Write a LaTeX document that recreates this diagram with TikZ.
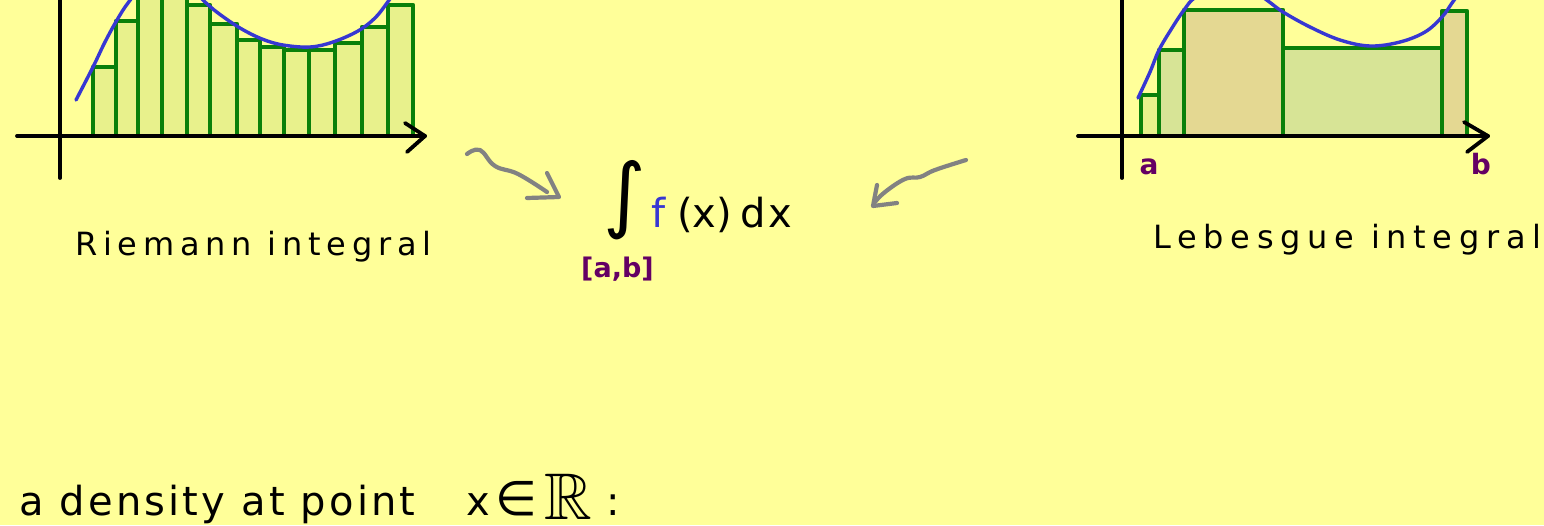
\documentclass[tikz,border=0pt]{standalone}
\usepackage{fontspec}
\usepackage{amssymb}
\newfontfamily\handA[LetterSpace=18]{DejaVu Sans}
\newfontfamily\handB[LetterSpace=21]{DejaVu Sans}
\newfontfamily\handC[LetterSpace=8]{DejaVu Sans}
\newfontfamily\handsym{DejaVu Sans}
\definecolor{bg}{RGB}{255,255,153}
\definecolor{bargreen}{RGB}{10,128,10}
\definecolor{barfill}{RGB}{232,241,140}
\definecolor{barmid}{RGB}{215,228,150}
\definecolor{bartan}{RGB}{228,216,146}
\definecolor{curveblue}{RGB}{55,55,210}
\definecolor{arrgray}{RGB}{130,130,130}
\definecolor{lblpurple}{RGB}{100,0,100}
\tikzset{
  bar/.style={draw=bargreen, line width=4.4pt, line join=round},
  axis/.style={draw=black, line width=3.8pt, line cap=round},
  curve/.style={draw=curveblue, line width=3.4pt, line cap=round},
  squig/.style={draw=arrgray, line width=4.2pt, line cap=round, line join=round},
  lbl/.style={inner sep=0pt},
  plbl/.style={inner sep=0pt, text=lblpurple, font=\handsym\fontsize{28}{28}\selectfont\bfseries},
}
\begin{document}
\begin{tikzpicture}[x=1pt,y=-1pt]
\useasboundingbox (0,0) rectangle (1544,525);
\fill[bg] (0,0) rectangle (1544,525);
\begin{scope}
\clip (0,0) rectangle (1544,525);
% ---------- left graph (Riemann) ----------
\foreach \a/\b/\t in {93/116/67, 116/138/21, 138/162/-10, 162/187/-10, 187/210/5,
  210/237/24, 237/260/40, 260/284/47, 284/309/50, 309/335/50, 335/362/43, 362/388/27, 388/413/5}
  \filldraw[bar, fill=barfill] (\a,136) rectangle (\b,\t);
\draw[curve] plot[smooth, tension=0.6] coordinates {(76,100) (93,67) (105,42) (117,20) (128,3) (142,-12) (168,-20) (192,-10) (205,2) (218,13) (240,28) (262,39) (283,45) (310,47) (333,42) (358,31) (375,18) (387,3) (396,-10)};
\draw[axis] (60,-5) -- (60,178);
\draw[axis] (17,136) -- (425,136);
\draw[axis, line join=round] (405,123) -- (425,136) -- (407,152);
% ---------- right graph (Lebesgue) ----------
\filldraw[bar, fill=barfill] (1141,136) rectangle (1159,95);
\filldraw[bar, fill=barmid]  (1159,136) rectangle (1184,50);
\filldraw[bar, fill=bartan]  (1184,136) rectangle (1283,10);
\filldraw[bar, fill=barmid]  (1283,136) rectangle (1442,48);
\filldraw[bar, fill=bartan]  (1442,136) rectangle (1467,11);
\draw[curve] plot[smooth, tension=0.6] coordinates {(1138,98) (1150,72) (1159,50) (1172,28) (1184,10) (1196,-3) (1225,-16) (1254,-8) (1268,1) (1283,12) (1310,27) (1340,40) (1370,46) (1400,42) (1425,32) (1442,17) (1452,3) (1460,-8)};
\draw[axis] (1122,-5) -- (1122,178);
\draw[axis] (1078,136) -- (1488,136);
\draw[axis, line join=round] (1464,122) -- (1488,136) -- (1467,152);
\end{scope}
\node[plbl, anchor=base] (la) at (1149,174) {a};
\node[plbl, anchor=base] (lb) at (1481,174) {b};
% ---------- labels ----------
\node[lbl, anchor=base west, font=\handA\fontsize{32}{32}\selectfont] (riemann) at (75,255) {Riemann integral};
\node[lbl, anchor=base west, font=\handB\fontsize{32}{32}\selectfont] (lebesgue) at (1153,248) {Lebesgue integral};
% ---------- formula ----------
\node[inner sep=0pt, font=\handsym\fontsize{82}{82}\selectfont] (int) at (625,200) {∫};
\node[inner sep=0pt, anchor=base west, text=curveblue, font=\handsym\fontsize{40}{40}\selectfont] (f) at (651,227) {f};
\node[inner sep=0pt, anchor=base west, font=\handsym\fontsize{40}{40}\selectfont] (fx) at (677,227) {(x)};
\node[inner sep=0pt, anchor=base west, font=\handsym\fontsize{40}{40}\selectfont] (dx) at (740,227) {d\hspace{3pt}x};
\node[plbl, anchor=base west, font=\handsym\fontsize{27}{27}\selectfont\bfseries] (dom) at (581,277) {[a,b]};
% ---------- gray arrows ----------
\coordinate (s1) at (467,154);
\coordinate (t1) at (559,197);
\draw[squig] plot[smooth, tension=0.7] coordinates {(s1) (480,150) (495,166) (518,174) (547,192)};
\draw[squig] (547,173) -- (t1) -- (527,198);
\coordinate (s2) at (966,160);
\coordinate (t2) at (873,206);
\draw[squig] plot[smooth, tension=0.7] coordinates {(s2) (935,170) (920,177) (905,179) (885,192) (875,202)};
\draw[squig] (877,185) -- (t2) -- (897,203);
% ---------- bottom line ----------
\node[lbl, anchor=base west, font=\handC\fontsize{40}{40}\selectfont] (density) at (19,515) {a density at point};
\node[lbl, anchor=base west, font=\handsym\fontsize{40}{40}\selectfont] (xin) at (466,515) {x};
\node[lbl, anchor=base west, font=\handsym\fontsize{48}{48}\selectfont] (elem) at (495,515) {∈};
\node[lbl, anchor=base west, font=\fontsize{66}{66}\selectfont] (reals) at (544,519) {$\mathbb{R}$};
\node[lbl, anchor=base west, font=\handsym\fontsize{40}{40}\selectfont] (colon) at (606,515) {:};
\end{tikzpicture}
\end{document}
